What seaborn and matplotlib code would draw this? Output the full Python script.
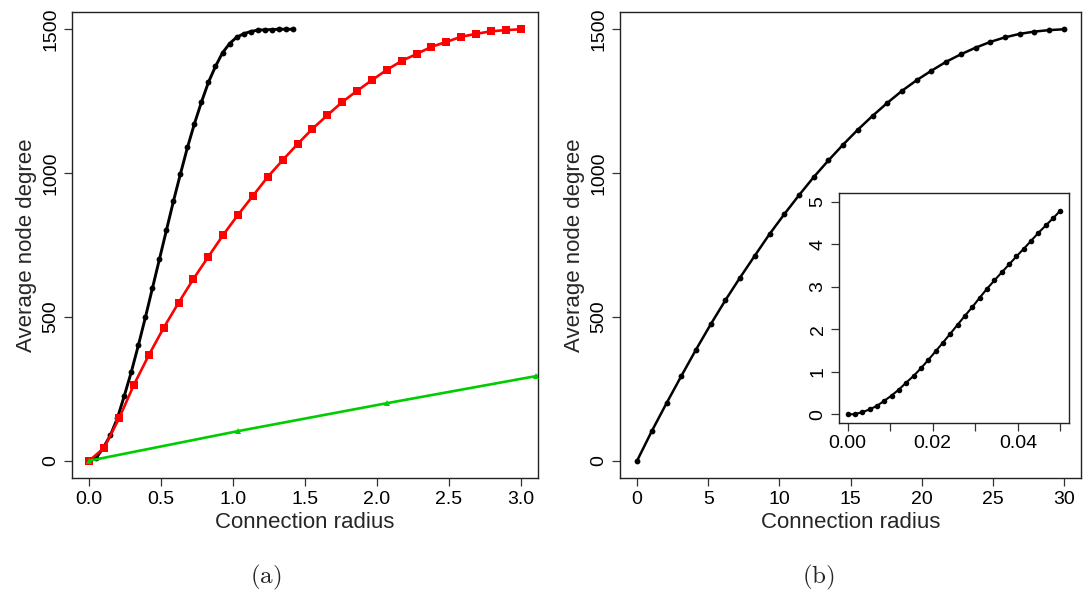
import numpy as np
import pandas as pd
import matplotlib
matplotlib.use("Agg")
import matplotlib.pyplot as plt
import seaborn as sns

# ---------------- data ----------------
# panel (a)
black_x = np.linspace(0, 1.414, 30)
black_y = [0, 10, 45, 88, 147, 226, 309, 401, 498, 599, 700, 801, 902, 997, 1089,
           1172, 1247, 1316, 1371, 1418, 1450, 1472, 1484, 1492, 1497, 1498, 1499,
           1500, 1500, 1500]
red_x = np.linspace(0, 3.0, 30)
red_y = [0, 45, 147, 264, 367, 462, 549, 632, 709, 785, 855, 921, 987, 1045, 1101,
         1154, 1201, 1247, 1286, 1323, 1359, 1390, 1414, 1439, 1456, 1474, 1484,
         1493, 1497, 1500]
# panel (b) main curve (also drawn in green in panel (a))
main_x = np.linspace(0, 30, 30)
main_y = [0, 103, 200, 294, 386, 474, 558, 637, 713, 788, 857, 923, 986, 1044, 1099,
          1151, 1199, 1244, 1286, 1323, 1356, 1387, 1413, 1436, 1456, 1472, 1484,
          1492, 1497, 1500]
# inset
inset_x = np.linspace(0, 0.05, 30)
inset_y = [0, 0.008, 0.055, 0.117, 0.203, 0.32, 0.445, 0.586, 0.75, 0.906, 1.086,
           1.281, 1.484, 1.688, 1.898, 2.109, 2.32, 2.523, 2.742, 2.953, 3.148,
           3.336, 3.523, 3.711, 3.89, 4.078, 4.266, 4.438, 4.609, 4.789]

x_label = "Connection radius"
y_label = "Average node degree"
ticks_a = [0.0, 0.5, 1.0, 1.5, 2.0, 2.5, 3.0]
ticks_b = [0, 5, 10, 15, 20, 25, 30]
ticks_y = [0, 500, 1000, 1500]
ticks_inset_x = [0.00, 0.01, 0.02, 0.03, 0.04, 0.05]
labels_inset_x = ["0.00", "", "0.02", "", "0.04", ""]
ticks_inset_y = [0, 1, 2, 3, 4, 5]

# ---------------- style ----------------
sns.set_style("ticks")
plt.rcParams["font.family"] = ["Liberation Sans", "DejaVu Sans"]
plt.rcParams["mathtext.fontset"] = "cm"
plt.rcParams["axes.edgecolor"] = "#222222"
plt.rcParams["axes.linewidth"] = 1.0
plt.rcParams["xtick.color"] = "#333333"
plt.rcParams["ytick.color"] = "#333333"
plt.rcParams["xtick.labelcolor"] = "black"
plt.rcParams["ytick.labelcolor"] = "black"

GREEN = "#00CD00"
TICK_FS = 14
LABEL_FS = 16

fig = plt.figure(figsize=(10.88, 5.90), dpi=100)
W, H = 1088, 590


def box(l, t, r, b):
    return [l / W, 1 - b / H, (r - l) / W, (b - t) / H]


ax1 = fig.add_axes(box(72, 12, 538, 478))
ax2 = fig.add_axes(box(620, 12, 1081, 478))
axin = fig.add_axes(box(839, 193, 1069, 423))

df_black = pd.DataFrame({"x": black_x, "y": black_y})
df_red = pd.DataFrame({"x": red_x, "y": red_y})
df_main = pd.DataFrame({"x": main_x, "y": main_y})
df_in = pd.DataFrame({"x": inset_x, "y": inset_y})

# panel (a)
sns.lineplot(data=df_black, x="x", y="y", ax=ax1, color="black", lw=2.1,
             marker="o", markersize=4.2, markeredgewidth=0, zorder=3)
sns.lineplot(data=df_red, x="x", y="y", ax=ax1, color="#FF0000", lw=1.9,
             marker="s", markersize=5.4, markeredgewidth=0, zorder=4)
sns.lineplot(data=df_main, x="x", y="y", ax=ax1, color=GREEN, lw=1.9,
             marker="^", markersize=5, markeredgewidth=0, zorder=5)
ax1.set_xlim(-0.12, 3.12)
ax1.set_ylim(-60, 1560)
ax1.set_xticks(ticks_a)
ax1.set_xticklabels([f"{t:.1f}" for t in ticks_a])

# panel (b)
sns.lineplot(data=df_main, x="x", y="y", ax=ax2, color="black", lw=1.8,
             marker="o", markersize=4.2, markeredgewidth=0)
ax2.set_xlim(-1.2, 31.2)
ax2.set_ylim(-60, 1560)
ax2.set_xticks(ticks_b)

for ax in (ax1, ax2):
    ax.set_yticks(ticks_y)
    ax.set_xlabel(x_label, fontsize=LABEL_FS, labelpad=3)
    ax.set_ylabel(y_label, fontsize=LABEL_FS, labelpad=4)
    ax.tick_params(axis="both", labelsize=TICK_FS, length=6, width=0.9, pad=3)
    plt.setp(ax.get_yticklabels(), rotation=90, va="center")
    for s in ax.spines.values():
        s.set_visible(True)

# inset
sns.lineplot(data=df_in, x="x", y="y", ax=axin, color="black", lw=1.5,
             marker="o", markersize=4, markeredgewidth=0)
axin.set_xlim(-0.002, 0.052)
axin.set_ylim(-0.2, 5.2)
axin.set_xticks(ticks_inset_x)
axin.set_xticklabels(labels_inset_x)
axin.set_yticks(ticks_inset_y)
axin.set_xlabel("")
axin.set_ylabel("")
axin.tick_params(axis="both", labelsize=TICK_FS, length=6, width=0.9, pad=3)
plt.setp(axin.get_yticklabels(), rotation=90, va="center")
for s in axin.spines.values():
    s.set_visible(True)
axin.set_facecolor("white")

fig.text(266 / W, 1 - 577 / H, r"$\mathrm{(a)}$", ha="center", va="center", fontsize=18)
fig.text(818 / W, 1 - 577 / H, r"$\mathrm{(b)}$", ha="center", va="center", fontsize=18)

fig.savefig("out.png", dpi=100, facecolor="white")
